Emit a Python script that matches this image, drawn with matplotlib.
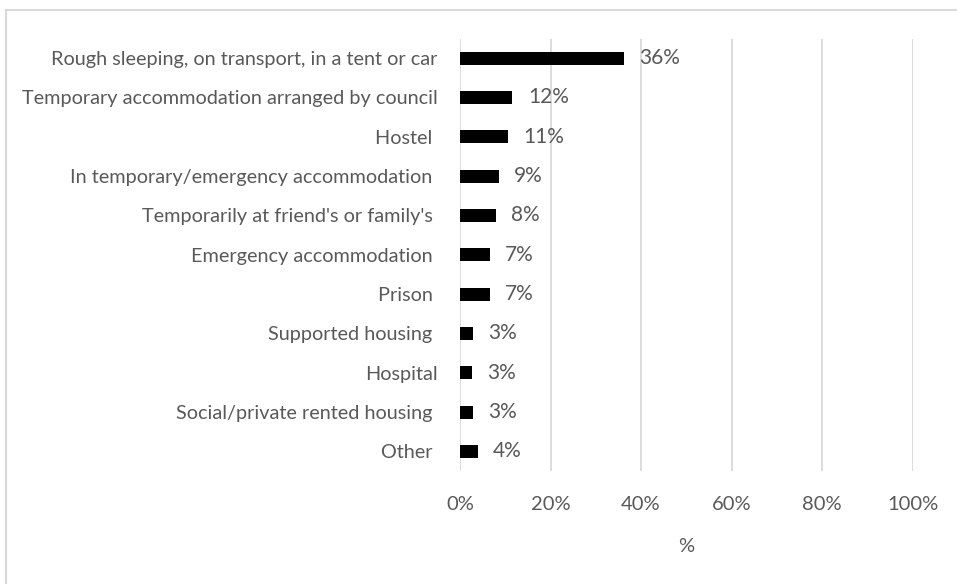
import matplotlib
matplotlib.use("Agg")
import matplotlib.pyplot as plt
from matplotlib.patches import Rectangle
from matplotlib.ticker import FuncFormatter

# where people were living before (share of respondents, %)
categories = [
    "Rough sleeping, on transport, in a tent or car",
    "Temporary accommodation arranged by council",
    "Hostel ",
    "In temporary/emergency accommodation ",
    "Temporarily at friend's or family's ",
    "Emergency accommodation ",
    "Prison ",
    "Supported housing ",
    "Hospital",
    "Social/private rented housing ",
    "Other ",
]
shares = [36.2, 11.6, 10.6, 8.6, 8.0, 6.6, 6.6, 2.9, 2.6, 2.9, 3.9]
xticks = [0, 20, 40, 60, 80, 100]

grey_txt = "#595959"
grid_col = "#d9d9d9"
plt.rcParams["font.family"] = ["Lato", "DejaVu Sans"]

fig = plt.figure(figsize=(9.57, 5.84), dpi=100)
W, H = 957, 584
ax = fig.add_axes([460 / W, 1 - 471 / H, 452.5 / W, 432.5 / H])

# outer chart frame
fig.patches.append(Rectangle((6 / W, -0.1), 1.2, 1 - 10 / H + 0.1,
                             transform=fig.transFigure, fill=False,
                             edgecolor=grid_col, lw=1.5))

ypos = list(range(len(categories)))
ax.barh(ypos, shares, height=0.33, color="black", zorder=3)
for y, v in zip(ypos, shares):
    ax.annotate(f"{round(v)}%", (v, y), xytext=(11, 0), textcoords="offset points",
                ha="left", va="center", fontsize=15, color=grey_txt)

ax.set_xlim(0, 100)
ax.set_ylim(len(categories) - 0.5, -0.5)
ax.set_xticks(xticks)
ax.xaxis.set_major_formatter(FuncFormatter(lambda v, p: f"{int(v)}%"))
ax.set_yticks(ypos)
ax.set_yticklabels(categories)
ax.grid(axis="x", color=grid_col, lw=1.3, zorder=0)
ax.tick_params(length=0, labelsize=14.3, labelcolor=grey_txt)
ax.tick_params(axis="y", pad=16)
ax.tick_params(axis="x", pad=18, labelsize=14.5)
for s in ax.spines.values():
    s.set_visible(False)
ax.set_xlabel("%", fontsize=14.5, color=grey_txt, labelpad=18)

fig.savefig("out.png", dpi=100)
